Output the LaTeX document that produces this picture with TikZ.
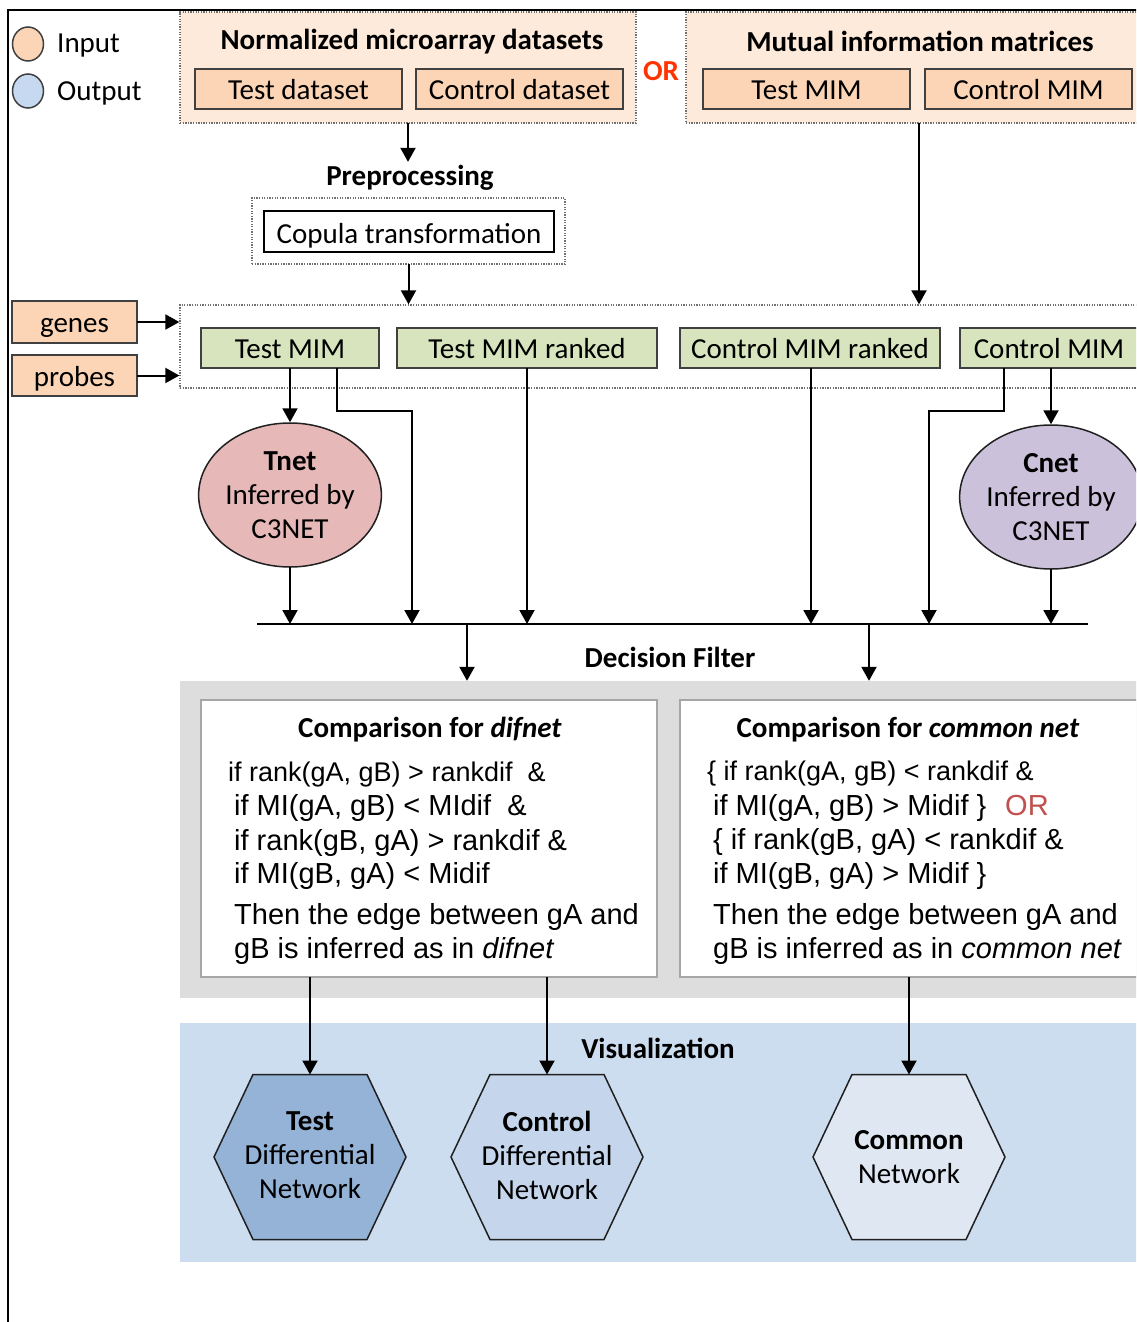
\documentclass[tikz,border=0pt]{standalone}
\usepackage{fontspec}
\setmainfont{Carlito}
\newfontfamily\arialfont{Liberation Sans}
\usepackage{tikz}
\usetikzlibrary{arrows.meta,shapes.geometric}

\begin{document}
\begin{tikzpicture}[x=1pt,y=-1pt,line cap=rect,
		font=\fontsize{29pt}{34pt}\selectfont,
		arr/.style={line width=2pt,-{Triangle[length=14pt,width=15pt]}},
		wire/.style={line width=2pt},
		dotbox/.style={draw=custcol_70_70_70,line cap=butt,dash pattern=on 1.3pt off 1.3pt,line width=1.3pt,inner sep=0},
		inbox/.style={draw=custcol_40_40_40,line width=2pt,fill=custcol_fb_d5_b5,minimum height=40,text height=23pt,text depth=2pt,inner sep=0},
		mimbox/.style={draw=custcol_40_40_40,line width=2pt,fill=custcol_d7_e4_bd,minimum height=40,text height=23pt,text depth=2pt,inner sep=0},
		netell/.style={ellipse,draw=custcol_20_20_20,line width=1.5pt,minimum width=178,minimum height=144,align=center,inner sep=0},
		cmpbox/.style={draw=custcol_a6_a6_a6,line width=2pt,fill=white,minimum height=277,inner sep=0},
		hexa/.style={draw=custcol_20_20_20,line width=1.5pt},
		condtxt/.style={inner sep=0,anchor=base west,font=\arialfont\fontsize{29pt}{34pt}\selectfont},
		condsmall/.style={condtxt,font=\arialfont\fontsize{27pt}{34pt}\selectfont}]
	\definecolor{custcol_fd_ea_da}{RGB}{253, 234, 218}
	\definecolor{custcol_fb_d5_b5}{RGB}{251, 213, 181}
	\definecolor{custcol_d7_e4_bd}{RGB}{215, 228, 189}
	\definecolor{custcol_e6_b9_b8}{RGB}{230, 185, 184}
	\definecolor{custcol_cc_c1_da}{RGB}{204, 193, 218}
	\definecolor{custcol_dd_dd_dd}{RGB}{221, 221, 221}
	\definecolor{custcol_a6_a6_a6}{RGB}{166, 166, 166}
	\definecolor{custcol_cd_dd_f0}{RGB}{205, 221, 240}
	\definecolor{custcol_95_b3_d7}{RGB}{149, 179, 215}
	\definecolor{custcol_c5_d6_ec}{RGB}{197, 214, 236}
	\definecolor{custcol_df_e7_f3}{RGB}{223, 231, 243}
	\definecolor{custcol_c6_d9_f1}{RGB}{198, 217, 241}
	\definecolor{custcol_ff_33_00}{RGB}{255, 51, 0}
	\definecolor{custcol_c0_50_4d}{RGB}{192, 80, 77}
	\definecolor{custcol_20_20_20}{RGB}{32, 32, 32}
	\definecolor{custcol_40_40_40}{RGB}{64, 64, 64}
	\definecolor{custcol_70_70_70}{RGB}{112, 112, 112}
	\useasboundingbox (0,0) rectangle (1136,1322);
	\clip (0,0) rectangle (1136,1322);
	\draw [line width=2pt] (8,1322) -- (8,10) -- (1136,10) ;
	% legend
	\node[ellipse,draw=custcol_40_40_40,line width=1.5pt,fill=custcol_fb_d5_b5,minimum width=31,minimum height=34,inner sep=0] (inleg) at (28,44) {};
	\node[inner sep=0,anchor=west] (inlabel) at (57,46) {Input};
	\node[ellipse,draw=custcol_40_40_40,line width=1.5pt,fill=custcol_c6_d9_f1,minimum width=31,minimum height=34,inner sep=0] (outleg) at (28,91) {};
	\node[inner sep=0,anchor=west] (outlabel) at (57,93) {Output};
	% inputs
	\node[dotbox,fill=custcol_fd_ea_da,minimum width=456,minimum height=111] (normbox) at (408,67.5) {};
	\node (normtitle) at (412,42) {\textbf{Normalized microarray datasets}};
	\node[inbox,minimum width=207] (testdata) at (298.5,89) {Test dataset};
	\node[inbox,minimum width=207] (ctrldata) at (519.5,89) {Control dataset};
	\node[text=custcol_ff_33_00] (ortop) at (661,71) {\textbf{OR}};
	\node[dotbox,fill=custcol_fd_ea_da,minimum width=466,minimum height=111] (mutbox) at (919,67.5) {};
	\node (muttitle) at (920,41) {\textbf{Mutual information matrices}};
	\node[inbox,minimum width=207] (testmimin) at (806.5,89) {Test MIM};
	\node[inbox,minimum width=207] (ctrlmimin) at (1028.5,89) {Control MIM};
	% preprocessing
	\node (prelabel) at (410,178) {\textbf{Preprocessing}};
	\node[dotbox,minimum width=313,minimum height=66] (copulaout) at (408.5,231) {};
	\node[draw=black,line width=2pt,fill=white,minimum width=290,minimum height=41,inner sep=0,text height=25pt,text depth=2pt] (copula) at (409,231.5) {Copula transformation};
	\draw [arr] (normbox.south) -- (normbox.south |- prelabel.north) ;
	% matrices
	\node[dotbox,minimum width=970,minimum height=83] (midbox) at (665,346.5) {};
	\draw [arr] (copulaout.south) -- (copulaout.south |- midbox.north) ;
	\draw [arr] (mutbox.south) -- (mutbox.south |- midbox.north) ;
	\node[inbox,minimum width=125,minimum height=42] (genes) at (74.5,322) {genes};
	\node[inbox,minimum width=125,minimum height=41] (probes) at (74.5,375.5) {probes};
	\draw [arr] (genes.east) -- (genes.east -| midbox.west) ;
	\draw [arr] (probes.east) -- (probes.east -| midbox.west) ;
	\node[mimbox,minimum width=178] (tmim) at (290,348) {Test MIM};
	\node[mimbox,minimum width=260] (tmimr) at (527,348) {Test MIM ranked};
	\node[mimbox,minimum width=260] (cmimr) at (810,348) {Control MIM ranked};
	\node[mimbox,minimum width=178] (cmim) at (1049,348) {Control MIM};
	% networks
	\node[netell,fill=custcol_e6_b9_b8] (tnet) at (290,495) {\textbf{Tnet}\\Inferred by\\C3NET};
	\node[netell,fill=custcol_cc_c1_da] (cnet) at (1051,497) {\textbf{Cnet}\\Inferred by\\C3NET};
	\coordinate (busL) at (258,624);
	\coordinate (busR) at (1087,624);
	\draw [wire] (busL) -- (busR) ;
	\draw [arr] (tmim.south) -- (tnet.north) ;
	\draw [arr] ([xshift=47pt]tmim.south) -- ++(0,42) -| (busL -| 412,0) ;
	\draw [arr] (tmimr.south) -- (tmimr.south |- busL) ;
	\draw [arr] (tnet.south) -- (tnet.south |- busL) ;
	\draw [arr] ([xshift=1pt]cmimr.south) -- ([xshift=1pt]cmimr.south |- busL) ;
	\draw [arr] ([xshift=-45pt]cmim.south) -- ++(0,42) -| (busL -| 929,0) ;
	\draw [arr] ([xshift=2pt]cmim.south) -- (cnet.north) ;
	\draw [arr] (cnet.south) -- (cnet.south |- busL) ;
	% decision filter
	\node[fill=custcol_dd_dd_dd,minimum width=970,minimum height=317,inner sep=0] (filterbg) at (665,839.5) {};
	\node (filterlabel) at (670,657) {\textbf{Decision Filter}};
	\draw [arr] (busL -| 467,0) -- (467,0 |- filterbg.north) ;
	\draw [arr] (busL -| 869,0) -- (869,0 |- filterbg.north) ;
	\node[cmpbox,minimum width=456] (difbox) at (429,838.5) {};
	\node (diftitle) at (430,730) {\textbf{Comparison for \textit{difnet}}};
	\node[condsmall] (dif1) at (228,781) {if rank(gA, gB) > rankdif\ \ \&};
	\node[condtxt] (dif2) at (234,815) {if MI(gA, gB) < MIdif\ \ \&};
	\node[condtxt] (dif3) at (234,850) {if rank(gB, gA) > rankdif \&};
	\node[condtxt] (dif4) at (234,883) {if MI(gB, gA) < Midif};
	\node[condtxt] (dif5) at (234,924) {Then the edge between gA and};
	\node[condtxt] (dif6) at (234,958) {gB is inferred as in \textit{difnet}};
	\node[cmpbox,minimum width=460] (combox) at (910,838.5) {};
	\node (comtitle) at (908,730) {\textbf{Comparison for \textit{common net}}};
	\node[condsmall] (com1) at (707,780) {\{ if rank(gA, gB) < rankdif \&};
	\node[condtxt] (com2) at (713,815) {if MI(gA, gB) > Midif \}};
	\node[condtxt,text=custcol_c0_50_4d] (comor) at (1005,815) {OR};
	\node[condtxt] (com3) at (713,849) {\{ if rank(gB, gA) < rankdif \&};
	\node[condtxt] (com4) at (713,883) {if MI(gB, gA) > Midif \}};
	\node[condtxt] (com5) at (713,924) {Then the edge between gA and};
	\node[condtxt] (com6) at (713,958) {gB is inferred as in \textit{common net}};
	% visualization
	\node[fill=custcol_cd_dd_f0,minimum width=970,minimum height=239,inner sep=0] (visbg) at (665,1142.5) {};
	\node (vislabel) at (658,1048) {\textbf{Visualization}};
	\draw [hexa,fill=custcol_95_b3_d7] (214,1157) -- (253,1074.5) -- (367,1074.5) -- (406,1157) -- (367,1239.5) -- (253,1239.5) -- cycle;
	\node[align=center] (testhex) at (310,1155) {\textbf{Test}\\Differential\\Network};
	\coordinate (testtop) at (310,1074.5);
	\draw [hexa,fill=custcol_c5_d6_ec] (451,1157) -- (490,1074.5) -- (604,1074.5) -- (643,1157) -- (604,1239.5) -- (490,1239.5) -- cycle;
	\node[align=center] (ctrlhex) at (547,1155) {\textbf{Control}\\Differential\\Network};
	\coordinate (ctrltop) at (547,1074.5);
	\draw [hexa,fill=custcol_df_e7_f3] (813,1157) -- (852,1074.5) -- (966,1074.5) -- (1005,1157) -- (966,1239.5) -- (852,1239.5) -- cycle;
	\node[align=center] (comhex) at (909,1157) {\textbf{Common}\\Network};
	\coordinate (comtop) at (909,1074.5);
	\draw [arr] (testtop |- difbox.south) -- (testtop) ;
	\draw [arr] (ctrltop |- difbox.south) -- (ctrltop) ;
	\draw [arr] (comtop |- combox.south) -- (comtop) ;
\end{tikzpicture}
\end{document}
